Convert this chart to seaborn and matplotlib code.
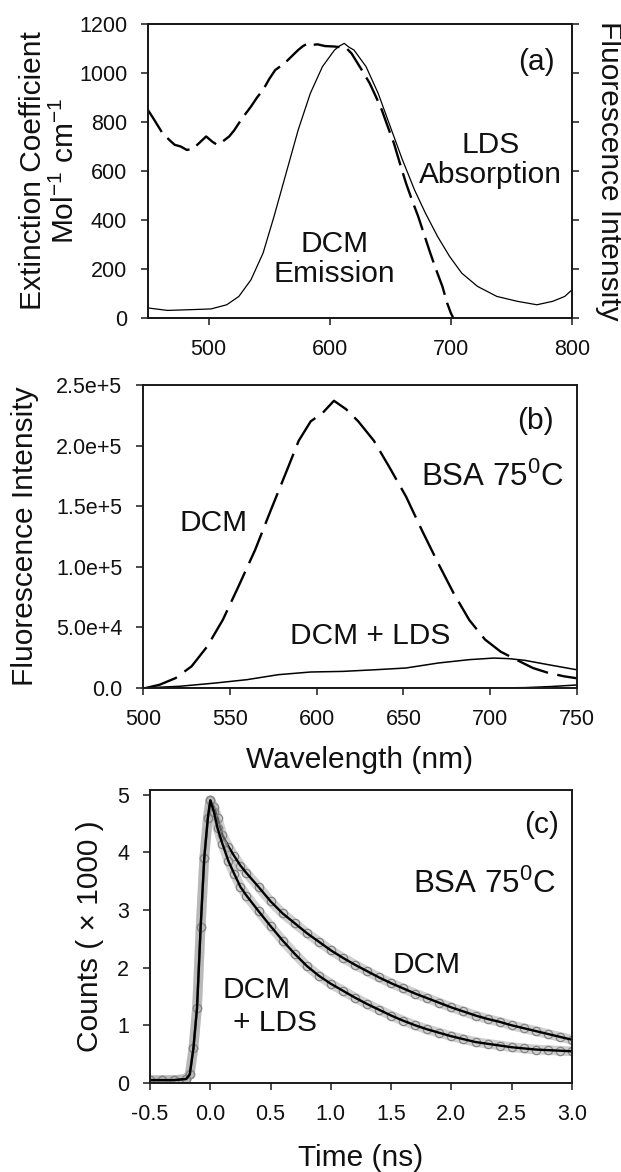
import numpy as np
import pandas as pd
import matplotlib
matplotlib.use("Agg")
import matplotlib.pyplot as plt
import seaborn as sns

# ---------------- Panel (a) data ----------------
a_dash_x = [450, 455, 462, 468, 472, 477, 482, 487, 492, 498, 503, 507, 512, 517, 521, 525, 530, 535,
            540, 545, 550, 555, 560, 564, 569, 574, 578, 582, 586, 590, 596, 604, 610, 614, 618, 623,
            628, 633, 638, 643, 648, 653, 658, 663, 668, 673, 678, 683, 688, 693, 697, 700, 702]
a_dash_y = [849, 810, 754, 725, 707, 700, 686, 690, 713, 741, 720, 707, 722, 741, 765, 795, 830, 863,
            900, 931, 975, 1012, 1030, 1046, 1070, 1094, 1110, 1121, 1115, 1117, 1110, 1108, 1105, 1100, 1080, 1040,
            1000, 958, 905, 849, 780, 713, 630, 550, 480, 415, 340, 265, 195, 129, 60, 20, 0]
a_solid_x = [450, 466, 485, 502, 515, 525, 535, 545, 554, 564, 574, 584, 594, 604, 608, 612, 616, 620,
             630, 640, 650, 660, 670, 679, 689, 699, 709, 722, 738, 755, 771, 784, 794, 800]
a_solid_y = [41, 31, 34, 37, 54, 88, 156, 265, 414, 591, 768, 917, 1026, 1094, 1110, 1121, 1105, 1094,
             1026, 917, 781, 646, 523, 428, 333, 251, 183, 129, 88, 68, 54, 68, 88, 115]
a_yticks = [0, 200, 400, 600, 800, 1000, 1200]
a_xticks = [500, 600, 700, 800]

# ---------------- Panel (b) data ----------------
b_dcm_x = [501.6, 509.6, 518.8, 528, 537, 546, 555, 564.6, 573.7, 583, 589.7, 596.6, 603.5, 610, 617,
           624, 633, 642, 651.5, 660.7, 670, 679, 688, 697, 706, 715.5, 724.6, 733.6, 742.7, 750]
b_dcm_y = [0, 2700, 8200, 17900, 34300, 56300, 83800, 114000, 147000, 180000, 204000, 220000, 227000,
           237000, 230000, 220000, 204000, 182000, 158000, 130000, 103000, 78000, 56000, 40000, 30000,
           23000, 16500, 12400, 9600, 8000]
b_lds_x = [500, 521, 541.7, 560, 578, 596.6, 615, 633, 651.5, 670, 688, 702, 711, 720, 733.6, 750]
b_lds_y = [0, 1400, 4100, 6900, 11000, 13200, 13700, 15000, 16500, 20600, 23400, 24700, 24200, 22800,
           19200, 15000]
b_base_x = [500, 600, 700, 720, 735, 750]
b_base_y = [0, 0, 0, 300, 1200, 2500]
b_yticks = [0, 50000, 100000, 150000, 200000, 250000]
b_yticklabels = ["0.0", "5.0e+4", "1.0e+5", "1.5e+5", "2.0e+5", "2.5e+5"]
b_xticks = [500, 550, 600, 650, 700, 750]

# ---------------- Panel (c) data ----------------
c_rise_t = [-0.5, -0.4, -0.3, -0.2, -0.17, -0.14, -0.11, -0.08, -0.05, -0.02, 0.0]
c_rise_y = [0.05, 0.05, 0.05, 0.07, 0.15, 0.6, 1.3, 2.7, 3.9, 4.6, 4.9]
c_dcm_t = [0.03, 0.06, 0.1, 0.15, 0.2, 0.25, 0.3, 0.4, 0.5, 0.6, 0.7, 0.8, 0.9, 1.0, 1.1, 1.2, 1.3,
           1.4, 1.5, 1.6, 1.7, 1.8, 1.9, 2.0, 2.1, 2.2, 2.3, 2.4, 2.5, 2.6, 2.7, 2.8, 2.9, 3.0]
c_dcm_y = [4.78, 4.6, 4.3, 4.1, 3.93, 3.77, 3.64, 3.4, 3.15, 2.94, 2.77, 2.6, 2.45, 2.3, 2.17, 2.05,
           1.94, 1.83, 1.73, 1.64, 1.55, 1.47, 1.39, 1.31, 1.24, 1.17, 1.11, 1.06, 1.0, 0.95, 0.9, 0.85,
           0.8, 0.75]
c_lds_t = c_dcm_t
c_lds_y = [4.7, 4.42, 4.15, 3.85, 3.62, 3.4, 3.25, 2.98, 2.72, 2.47, 2.24, 2.03, 1.86, 1.72, 1.6, 1.48,
           1.37, 1.27, 1.17, 1.08, 1.0, 0.93, 0.87, 0.81, 0.76, 0.71, 0.68, 0.65, 0.62, 0.6, 0.58, 0.57,
           0.56, 0.55]
c_yticks = [0, 1, 2, 3, 4, 5]
c_xticks = [-0.5, 0.0, 0.5, 1.0, 1.5, 2.0, 2.5, 3.0]

# ---------------- Style ----------------
sns.set_style("ticks")
plt.rcParams['font.family'] = ['Liberation Sans', 'DejaVu Sans']
plt.rcParams['mathtext.fontset'] = 'custom'
plt.rcParams['mathtext.rm'] = 'Liberation Sans'
plt.rcParams['mathtext.it'] = 'Liberation Sans'
plt.rcParams['mathtext.default'] = 'regular'
plt.rcParams['text.color'] = 'black'
plt.rcParams['axes.labelcolor'] = 'black'

TICK = 15.5
LAB = 21.5
TXT = 21.5
INK = '#111111'

W, H = 621, 1172
fig = plt.figure(figsize=(W / 100, H / 100), dpi=100)


def axes_px(l, r, t, b):
    return fig.add_axes([l / W, 1 - b / H, (r - l) / W, (b - t) / H])


def style(ax):
    for s in ax.spines.values():
        s.set_linewidth(1.4)
        s.set_color('#1a1a1a')
    ax.tick_params(direction='out', length=5, width=1.1, labelsize=TICK, pad=10,
                   colors='#1a1a1a', labelcolor=INK)


# Panel (a)
ax_a = axes_px(148, 572, 24, 318)
sns.lineplot(x=a_dash_x, y=a_dash_y, ax=ax_a, color='black', lw=1.7, estimator=None, sort=False)
ax_a.lines[-1].set_dashes((11, 3.5))
sns.lineplot(x=a_solid_x, y=a_solid_y, ax=ax_a, color='black', lw=0.9, estimator=None, sort=False)
ax_a.set_xlim(450, 800)
ax_a.set_ylim(0, 1200)
ax_a.set_xticks(a_xticks)
ax_a.set_yticks(a_yticks)
style(ax_a)
ax_a.set_ylabel("Extinction Coefficient\nMol$^{-1}$ cm$^{-1}$", fontsize=LAB, linespacing=1.15,
                color=INK)
ax_a.yaxis.set_label_coords(-0.16, 0.5)
ax2 = ax_a.twinx()
ax2.set_ylim(0, 1200)
ax2.set_yticks(a_yticks)
ax2.set_yticklabels([])
style(ax2)
ax2.set_ylabel("Fluorescence Intensity", fontsize=LAB, rotation=270, va='bottom', color=INK)
ax2.yaxis.set_label_coords(1.055, 0.5)
ax_a.text(771, 1046, "(a)", fontsize=TXT, ha='center', va='center', color=INK)
ax_a.text(733, 645, "LDS\nAbsorption", fontsize=TXT, ha='center', va='center', linespacing=1.05,
          color=INK)
ax_a.text(604, 241, "DCM\nEmission", fontsize=TXT, ha='center', va='center', linespacing=1.05,
          color=INK)

# Panel (b)
ax_b = axes_px(143, 577, 385, 688)
sns.lineplot(x=b_dcm_x, y=b_dcm_y, ax=ax_b, color='black', lw=1.7, estimator=None, sort=False)
ax_b.lines[-1].set_dashes((14, 4))
sns.lineplot(x=b_lds_x, y=b_lds_y, ax=ax_b, color='black', lw=1.1, estimator=None, sort=False)
sns.lineplot(x=b_base_x, y=b_base_y, ax=ax_b, color='black', lw=1.1, estimator=None, sort=False)
ax_b.set_xlim(500, 750)
ax_b.set_ylim(0, 250000)
ax_b.set_xticks(b_xticks)
ax_b.set_yticks(b_yticks)
ax_b.set_yticklabels(b_yticklabels)
style(ax_b)
ax_b.set_ylabel("Fluorescence Intensity", fontsize=LAB, color=INK)
ax_b.yaxis.set_label_coords(-0.24, 0.5)
ax_b.set_xlabel("Wavelength (nm)", fontsize=LAB, labelpad=12, color=INK)
ax_b.text(726, 220000, "(b)", fontsize=TXT, ha='center', va='center', color=INK)
ax_b.text(701, 174000, "BSA 75$^{0}$C", fontsize=TXT + 1, ha='center', va='center', color=INK)
ax_b.text(540.5, 136000, "DCM", fontsize=TXT, ha='center', va='center', color=INK)
ax_b.text(631, 42600, "DCM + LDS", fontsize=TXT, ha='center', va='center', color=INK)

# Panel (c)
ax_c = axes_px(150, 572, 790, 1083)
t_dcm = c_rise_t + c_dcm_t
y_dcm = c_rise_y + c_dcm_y
t_lds = c_rise_t + c_lds_t
y_lds = c_rise_y + c_lds_y
for tt, yy in [(t_dcm, y_dcm), (t_lds, y_lds)]:
    sns.lineplot(x=tt, y=yy, ax=ax_c, color='#a8a8a8', lw=7, alpha=0.55,
                 estimator=None, sort=False)
    sns.lineplot(x=tt, y=yy, ax=ax_c, color='#808080', lw=0, marker='o', markersize=6,
                 markerfacecolor='none', markeredgecolor='#858585', markeredgewidth=0.9,
                 estimator=None, sort=False)
    sns.lineplot(x=tt, y=yy, ax=ax_c, color='black', lw=1.7, estimator=None, sort=False)
ax_c.set_xlim(-0.5, 3.0)
ax_c.set_ylim(0, 5.08)
ax_c.set_xticks(c_xticks)
ax_c.set_xticklabels([f"{v:.1f}" for v in c_xticks])
ax_c.set_yticks(c_yticks)
style(ax_c)
ax_c.set_ylabel("Counts ( \u00d7 1000 )", fontsize=LAB, color=INK)
ax_c.yaxis.set_label_coords(-0.11, 0.5)
ax_c.set_xlabel("Time (ns)", fontsize=LAB, labelpad=14, color=INK)
ax_c.text(2.745, 4.48, "(c)", fontsize=TXT, ha='center', va='center', color=INK)
ax_c.text(2.27, 3.44, "BSA 75$^{0}$C", fontsize=TXT + 1, ha='center', va='center', color=INK)
ax_c.text(1.79, 2.05, "DCM", fontsize=TXT, ha='center', va='center', color=INK)
ax_c.text(0.104, 1.62, "DCM", fontsize=TXT, ha='left', va='center', color=INK)
ax_c.text(0.187, 1.04, "+ LDS", fontsize=TXT, ha='left', va='center', color=INK)

fig.savefig("out.png", dpi=100)
